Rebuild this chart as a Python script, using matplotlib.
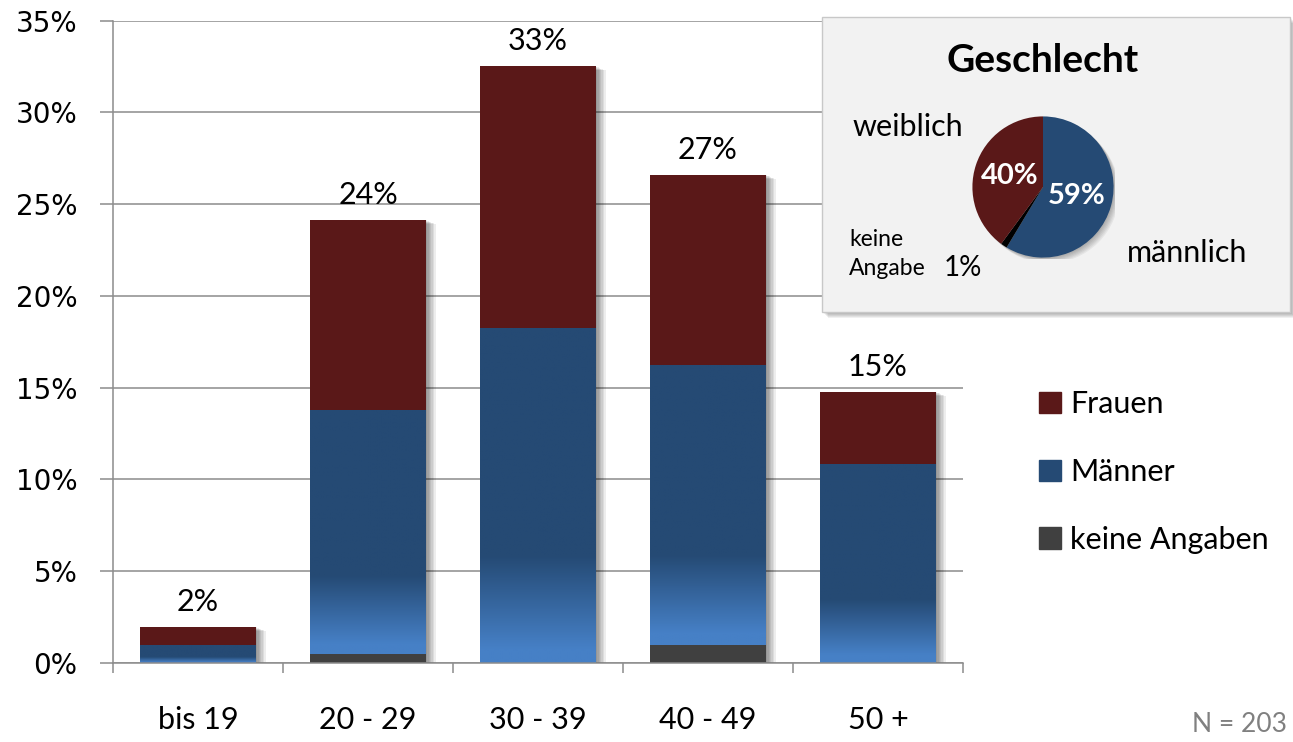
import numpy as np
import matplotlib
matplotlib.use('Agg')
import matplotlib.pyplot as plt
from matplotlib import patheffects as pe
from matplotlib.patches import Patch, Circle, FancyBboxPatch
from matplotlib.colors import LinearSegmentedColormap
from matplotlib.ticker import FuncFormatter

# Befragte je Altersgruppe (Anzahl Personen)
AGE_GROUPS = ['bis 19', '20 - 29', '30 - 39', '40 - 49', '50 +']
KEINE = [0, 1, 0, 2, 0]
MAENNER = [2, 27, 37, 31, 22]
FRAUEN = [2, 21, 29, 21, 8]
N_TOTAL = 203

# Geschlecht gesamt
SEX_LABELS = ['männlich', 'keine Angabe', 'weiblich']
SEX_COUNTS = [119, 3, 81]

COL_FRAUEN = '#5a1818'
COL_MAENNER = '#254a74'
COL_MAENNER_LIGHT = '#4680c6'
COL_KEINE = '#404040'
GRID = '#8c8c8c'
FONT = 'Lato'

plt.rcParams['font.family'] = [FONT, 'DejaVu Sans']

W, H = 1293, 742


def soft_shadow(dx=5, dy=-3, steps=6, alpha=0.06):
    # a few stacked offsets give a blurred looking drop shadow
    fx = []
    for i in range(steps):
        f = (i + 1) / steps
        fx.append(pe.SimplePatchShadow(offset=(dx * f, dy * f), shadow_rgbFace='black', alpha=alpha))
    return fx


def pct(a):
    return np.array(a, dtype=float) / N_TOTAL * 100


fig = plt.figure(figsize=(W / 100, H / 100), dpi=100)
ax = fig.add_axes([113 / W, 1 - 663 / H, 850 / W, 642.5 / H])

keine, maenner, frauen = pct(KEINE), pct(MAENNER), pct(FRAUEN)
totals = keine + maenner + frauen
x = np.arange(len(AGE_GROUPS))
bw = 0.68

# shadow under the full stack
ax.bar(x, totals, bw, color='white', path_effects=soft_shadow(7, -3, steps=7, alpha=0.07), zorder=1.5)

ax.bar(x, keine, bw, color=COL_KEINE, zorder=2)
m_bars = ax.bar(x, maenner, bw, bottom=keine, color=COL_MAENNER, zorder=2)
ax.bar(x, frauen, bw, bottom=keine + maenner, color=COL_FRAUEN, zorder=2)

# lighter blue towards the bottom of the Männer segments
cmap = LinearSegmentedColormap.from_list('maenner', [COL_MAENNER_LIGHT, COL_MAENNER])
t = np.linspace(0, 1, 256)
ramp = np.clip((t - 0.04) / 0.28, 0, 1)[:, None]
for bar in m_bars:
    x0, y0 = bar.get_x(), bar.get_y()
    im = ax.imshow(ramp, cmap=cmap, vmin=0, vmax=1, origin='lower', aspect='auto',
                   interpolation='bilinear', zorder=2.1,
                   extent=[x0, x0 + bar.get_width(), y0, y0 + bar.get_height()])
    im.set_clip_path(bar)

for xi, tot in zip(x, totals):
    ax.annotate(f'{tot:.0f}%', (xi, tot), xytext=(0, 18), textcoords='offset points',
                ha='center', va='center', fontsize=22)

ax.set_xlim(-0.5, len(x) - 0.5)
ax.set_ylim(0, 35)
ax.set_yticks(np.arange(0, 36, 5))
ax.yaxis.set_major_formatter(FuncFormatter(lambda v, _: f'{v:.0f}%'))
ax.grid(axis='y', color=GRID, lw=1.1)
ax.set_axisbelow(True)
for side in ['top', 'right']:
    ax.spines[side].set_visible(False)
for side in ['left', 'bottom']:
    ax.spines[side].set_color(GRID)
    ax.spines[side].set_linewidth(1.1)
ax.tick_params(axis='y', length=9.5, color=GRID, width=1.1, pad=16, labelsize=20)
for lab in ax.get_yticklabels():
    lab.set_fontfamily('DejaVu Sans')
ax.set_xticks(x, AGE_GROUPS)
ax.set_xticks(np.arange(-0.5, len(x)), minor=True)
ax.tick_params(axis='x', which='major', length=0, pad=31, labelsize=22)
ax.tick_params(axis='x', which='minor', length=7.5, color=GRID, width=1.1)

handles = [Patch(color=COL_FRAUEN), Patch(color=COL_MAENNER), Patch(color=COL_KEINE)]
fig.legend(handles, ['Frauen', 'Männer', 'keine Angaben'], loc='upper left',
           bbox_to_anchor=(1027 / W, 1 - 378 / H), frameon=False, fontsize=22,
           handlelength=0.7, handleheight=0.7, handletextpad=0.3, labelspacing=1.3,
           borderaxespad=0)

fig.text(1240 / W, 1 - 725 / H, f'N = {N_TOTAL}', color='#808080', fontsize=19,
         ha='center', va='center')

# Geschlecht box
box = FancyBboxPatch((822 / W, 1 - 312 / H), 468 / W, 295 / H, boxstyle='square,pad=0',
                     transform=fig.transFigure, facecolor='#f2f2f2', edgecolor='#c8c8c8',
                     lw=1, path_effects=soft_shadow(4, -4) + [pe.Normal()])
fig.add_artist(box)

fig.text(1043 / W, 1 - 60 / H, 'Geschlecht', fontsize=28, fontweight='bold',
         ha='center', va='center', zorder=6)

pax = fig.add_axes([(1043 - 72) / W, 1 - (187 + 72) / H, 144 / W, 144 / H])
pax.set_zorder(5)
pax.add_patch(Circle((0, 0), 1, path_effects=soft_shadow(4, -4, alpha=0.05), zorder=0))
small = min(SEX_COUNTS) / sum(SEX_COUNTS) * 100
wedges, _, autotexts = pax.pie(
    SEX_COUNTS, colors=[COL_MAENNER, 'black', COL_FRAUEN], startangle=90,
    counterclock=False, radius=1, wedgeprops=dict(lw=0),
    autopct=lambda p: '' if p <= small + 0.01 else f'{p:.0f}%', pctdistance=0.5,
    textprops=dict(color='white', fontsize=21, fontweight='bold'))
pax.set_xlim(-1.02, 1.02)
pax.set_ylim(-1.02, 1.02)
pax.set_aspect('equal')
pax.axis('off')

fig.text(908 / W, 1 - 127 / H, 'weiblich', fontsize=22, ha='center', va='center', zorder=6)
fig.text(1187 / W, 1 - 253 / H, 'männlich', fontsize=22, ha='center', va='center', zorder=6)
fig.text(849 / W, 1 - 254 / H, 'keine\nAngabe', fontsize=16.5, ha='left', va='center',
         linespacing=1.45, zorder=6)
fig.text(963 / W, 1 - 268 / H, f'{small:.0f}%', fontsize=20, ha='center', va='center', zorder=6)

fig.savefig('out.png', dpi=100)
